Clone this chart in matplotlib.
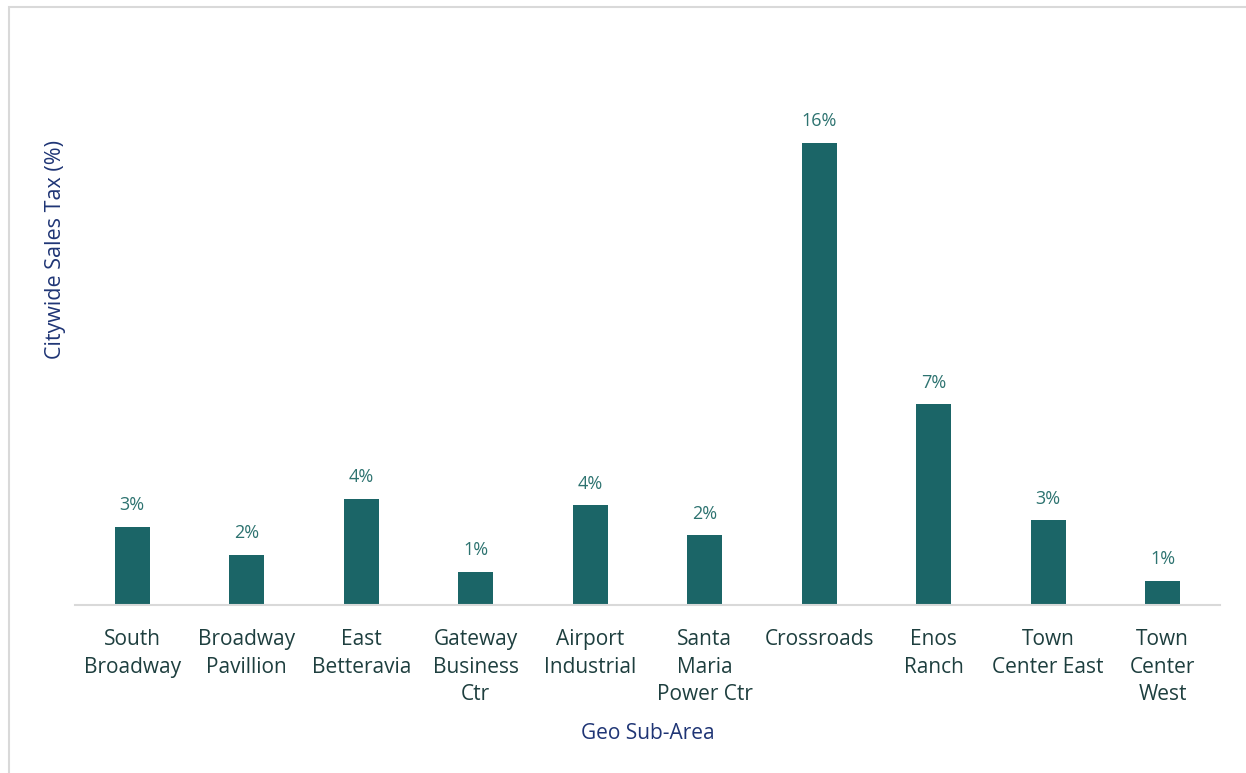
import matplotlib.pyplot as plt
from matplotlib.patches import Rectangle

# data (share of citywide sales tax)
areas = ["South\nBroadway", "Broadway\nPavillion", "East\nBetteravia", "Gateway\nBusiness\nCtr",
         "Airport\nIndustrial", "Santa\nMaria\nPower Ctr", "Crossroads", "Enos\nRanch",
         "Town\nCenter East", "Town\nCenter\nWest"]
shares = [0.0276, 0.0177, 0.0375, 0.0117, 0.0353, 0.0247, 0.1636, 0.0710, 0.0300, 0.0085]

bar_color = "#1b6567"
label_color = "#2d7370"
tick_color = "#1e3f3f"
axis_color = "#1f3575"

plt.rcParams['font.family'] = ['Open Sans', 'DejaVu Sans']

fig = plt.figure(figsize=(12.46, 7.73), dpi=100)
ax = fig.add_axes([75 / 1246, 1 - 605 / 773, 1145 / 1246, 565 / 773])

x = range(len(areas))
bars = ax.bar(x, shares, width=0.31, color=bar_color)
for b, v in zip(bars, shares):
    ax.text(b.get_x() + b.get_width() / 2, v + 0.0045, f"{v:.0%}",
            ha='center', va='bottom', fontsize=13, color=label_color)

ax.set_xlim(-0.5, len(areas) - 0.5)
ax.set_ylim(0, 0.20)
ax.set_xticks(list(x))
ax.set_xticklabels(areas, fontsize=15, color=tick_color, linespacing=1.4)
ax.tick_params(axis='x', length=0, pad=17.5)
ax.set_yticks([])

for s in ['top', 'right', 'left']:
    ax.spines[s].set_visible(False)
ax.spines['bottom'].set_color('#d9d9d9')
ax.spines['bottom'].set_linewidth(1.5)

ax.set_xlabel("Geo Sub-Area", fontsize=15, color=axis_color, labelpad=13)
ax.set_ylabel("Citywide Sales Tax (%)", fontsize=15.5, color=axis_color)
ax.yaxis.set_label_coords(-0.008, 0.63)

# light frame round the chart (only top and left edges show)
frame = Rectangle((8.5 / 1246, -0.1), 1.2, 1.1 - 7.5 / 773, transform=fig.transFigure,
                  fill=False, edgecolor='#d9d9d9', linewidth=1.5, clip_on=False)
fig.patches.append(frame)

fig.savefig("out.png", dpi=100)
